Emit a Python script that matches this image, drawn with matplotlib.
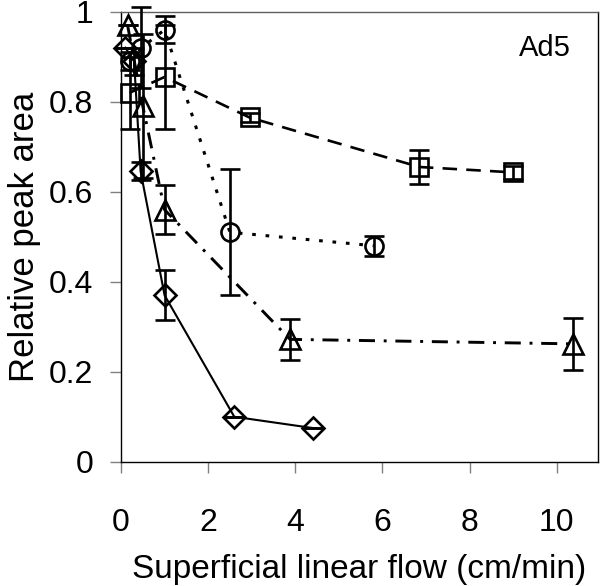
import matplotlib.pyplot as plt

plt.rcParams['font.family'] = ['Liberation Sans', 'DejaVu Sans']

# diamonds, solid line
dia_x = [0.1, 0.3, 0.45, 1.0, 2.6, 4.4]
dia_y = [0.92, 0.89, 0.645, 0.37, 0.10, 0.075]
dia_err = [0.0, 0.03, 0.02, 0.055, 0.0, 0.0]

# circles, dotted line
circ_x = [0.2, 0.47, 1.0, 2.5, 5.8]
circ_y = [0.89, 0.92, 0.96, 0.51, 0.48]
circ_err = [0.02, 0.09, 0.03, 0.14, 0.022]

# squares, dashed line
sq_x = [0.2, 1.0, 2.95, 6.85, 9.0]
sq_y = [0.82, 0.855, 0.765, 0.655, 0.643]
sq_err = [0.08, 0.115, 0.01, 0.037, 0.015]

# triangles, dash-dot line
tri_x = [0.15, 0.5, 1.0, 3.88, 10.37]
tri_y = [0.97, 0.79, 0.56, 0.272, 0.262]
tri_err = [0.0, 0.16, 0.055, 0.045, 0.057]

x_ticks = [0, 2, 4, 6, 8, 10]
y_ticks = [0, 0.2, 0.4, 0.6, 0.8, 1]
y_labels = ['0', '0.2', '0.4', '0.6', '0.8', '1']

fig = plt.figure(figsize=(6, 5.86), dpi=100)
ax = fig.add_axes([0.2017, 0.212, 0.795, 0.768])

series = [
    (dia_x, dia_y, dia_err, 'D', 11, '-', 1.5),
    (circ_x, circ_y, circ_err, 'o', 13, (0, (1.2, 3.2)), 2.2),
    (sq_x, sq_y, sq_err, 's', 13, (0, (5.5, 3.5)), 1.9),
    (tri_x, tri_y, tri_err, '^', 14, (0, (5.5, 3, 1.0, 3)), 2.1),
]
for xs, ys, errs, mk, ms, ls, lw in series:
    ax.plot(xs, ys, color='black', linestyle=ls, linewidth=lw, zorder=2)
    ax.errorbar(xs, ys, yerr=errs, fmt=mk, markersize=ms, markerfacecolor='none',
                markeredgecolor='black', markeredgewidth=1.9, ecolor='black',
                elinewidth=1.9, capsize=7, capthick=1.9, clip_on=False, zorder=3)

ax.set_xlim(0, 10.95)
ax.set_ylim(0, 1)
ax.set_xticks(x_ticks)
ax.set_yticks(y_ticks)
ax.set_yticklabels(y_labels)
ax.tick_params(axis='both', direction='out', length=8, width=1, color='#808080', labelsize=23)
ax.tick_params(axis='x', pad=25)
ax.tick_params(axis='y', pad=12)
for s in ax.spines.values():
    s.set_linewidth(1)
    s.set_color('black')
ax.spines['top'].set_color('#606060')

ax.set_xlabel('Superficial linear flow (cm/min)', fontsize=24, labelpad=12)
ax.set_ylabel('Relative peak area', fontsize=25, labelpad=6)
ax.text(0.888, 0.92, 'Ad5', transform=ax.transAxes, fontsize=21, ha='center', va='center')

fig.savefig('out.png', dpi=100)
